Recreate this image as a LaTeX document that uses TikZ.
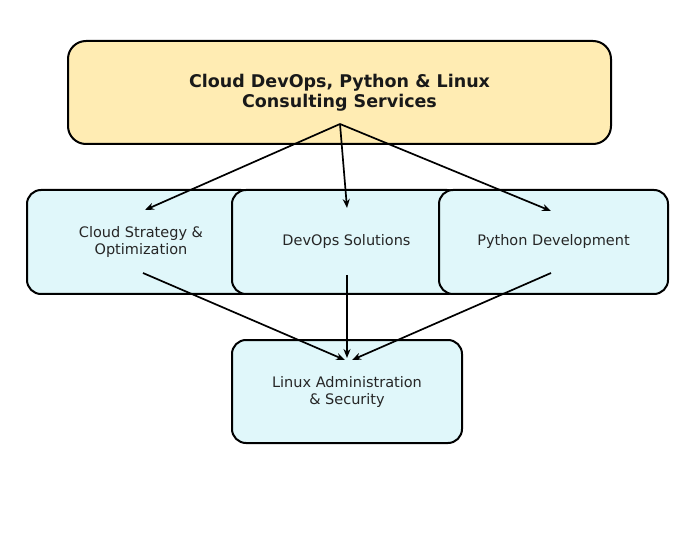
\documentclass[tikz,border=0pt]{standalone}
\usepackage{fontspec}
\setmainfont{DejaVu Sans}
\usetikzlibrary{arrows.meta}
\definecolor{topfill}{HTML}{FFECB3}
\definecolor{boxfill}{HTML}{E0F7FA}
\begin{document}
\begin{tikzpicture}[x=1pt,y=-1pt,
  box/.style={draw=black,line width=2pt,rounded corners=14pt,fill=boxfill,align=center,font=\fontsize{14.5}{17}\selectfont,text=black!85},
  arr/.style={-{Stealth[length=9pt,width=7pt]},line width=1.7pt}]
\useasboundingbox (0,0) rectangle (680,545);
\node[box,fill=topfill,rounded corners=18pt,minimum width=543pt,minimum height=103pt,font=\bfseries\fontsize{17.5}{20}\selectfont,text=black!90] (top) at (339.5,92.5) {Cloud DevOps, Python \& Linux\\Consulting Services};
\node[box,minimum width=228pt,minimum height=104pt] (a) at (141,242) {Cloud Strategy \&\\Optimization};
\node[box,minimum width=229pt,minimum height=104pt] (b) at (346.5,242) {DevOps Solutions};
\node[box,minimum width=229pt,minimum height=104pt] (c) at (553.5,242) {Python Development};
\node[box,minimum width=230pt,minimum height=103pt] (d) at (347,391.5) {Linux Administration\\\& Security};
\coordinate (s) at (340,124);
\coordinate (ea) at (145,210); \coordinate (eb) at (347,208); \coordinate (ec) at (551,211);
\coordinate (sa) at (143,273); \coordinate (sb) at (347,275); \coordinate (sc) at (551,273);
\coordinate (da) at (345,360); \coordinate (db) at (347,358); \coordinate (dc) at (352,360);
\draw[arr] (s) -- (ea); \draw[arr] (s) -- (eb); \draw[arr] (s) -- (ec);
\draw[arr] (sa) -- (da); \draw[arr] (sb) -- (db); \draw[arr] (sc) -- (dc);
\end{tikzpicture}
\end{document}
